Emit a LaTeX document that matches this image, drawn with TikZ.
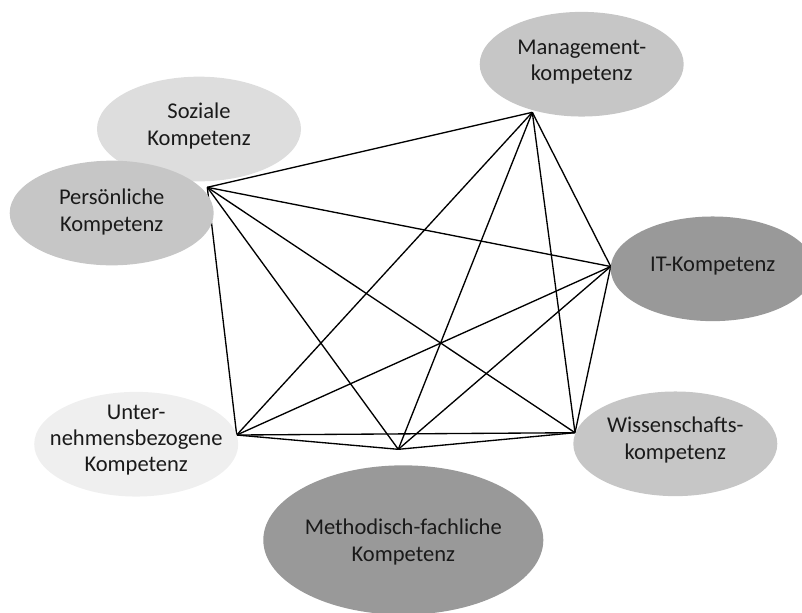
\documentclass[tikz,border=0pt]{standalone}
\usepackage{fontspec}
\setmainfont{Carlito}
\usetikzlibrary{shapes.geometric}
\definecolor{gMid}{HTML}{C6C6C6}
\definecolor{gSoz}{HTML}{DDDDDD}
\definecolor{gDark}{HTML}{999999}
\definecolor{gLight}{HTML}{EFEFEF}
\definecolor{txtc}{HTML}{1A1A1A}
\begin{document}
\begin{tikzpicture}[x=0.75pt,y=-0.75pt,
  bubble/.style={ellipse, draw=none, inner sep=0pt, minimum width=153pt, minimum height=78.5pt},
  bigbubble/.style={ellipse, draw=none, inner sep=0pt, minimum width=210pt, minimum height=112pt},
  lbl/.style={align=center, text=txtc, font=\fontsize{16.9}{19.8}\selectfont, inner sep=0pt},
  link/.style={draw=black, line width=1pt, line join=round}]
\useasboundingbox (0,0) rectangle (802,612);
\coordinate (P) at (207.3,187.3);
\coordinate (M) at (532.3,112.3);
\coordinate (I) at (610.7,266.5);
\coordinate (W) at (575,432.7);
\coordinate (U) at (236.7,435);
\coordinate (D) at (398.3,449.3);
\foreach \a/\b in {P/M,P/I,P/W,P/D,P/U,M/I,M/W,M/D,M/U,I/W,I/D,I/U,W/U,W/D,U/D}
  \draw[link] (\a) -- (\b);
\node[bubble, fill=gSoz] (soz) at (199,129) {};
\node[bubble, fill=gMid] (per) at (111.7,213) {};
\node[bubble, fill=gMid] (man) at (581.7,64.2) {};
\node[bubble, fill=gDark] (itk) at (712.7,268.8) {};
\node[bubble, fill=gLight] (unt) at (136.2,444.2) {};
\node[bubble, fill=gMid] (wis) at (675.3,443.8) {};
\node[bigbubble, fill=gDark] (met) at (403.3,540) {};
\node[lbl] (sozt) at (199,126) {Soziale\\Kompetenz};
\node[lbl] (pert) at (111.7,212) {Persönliche\\Kompetenz};
\node[lbl] (mant) at (581.7,62) {Management-\\kompetenz};
\node[lbl] (itkt) at (712.7,266) {IT-Kompetenz};
\node[lbl] (untt) at (136.2,440) {Unter-\\nehmensbezogene\\Kompetenz};
\node[lbl] (wist) at (675.3,440) {Wissenschafts-\\kompetenz};
\node[lbl] (mett) at (403.3,542) {Methodisch-fachliche\\Kompetenz};
\end{tikzpicture}
\end{document}
